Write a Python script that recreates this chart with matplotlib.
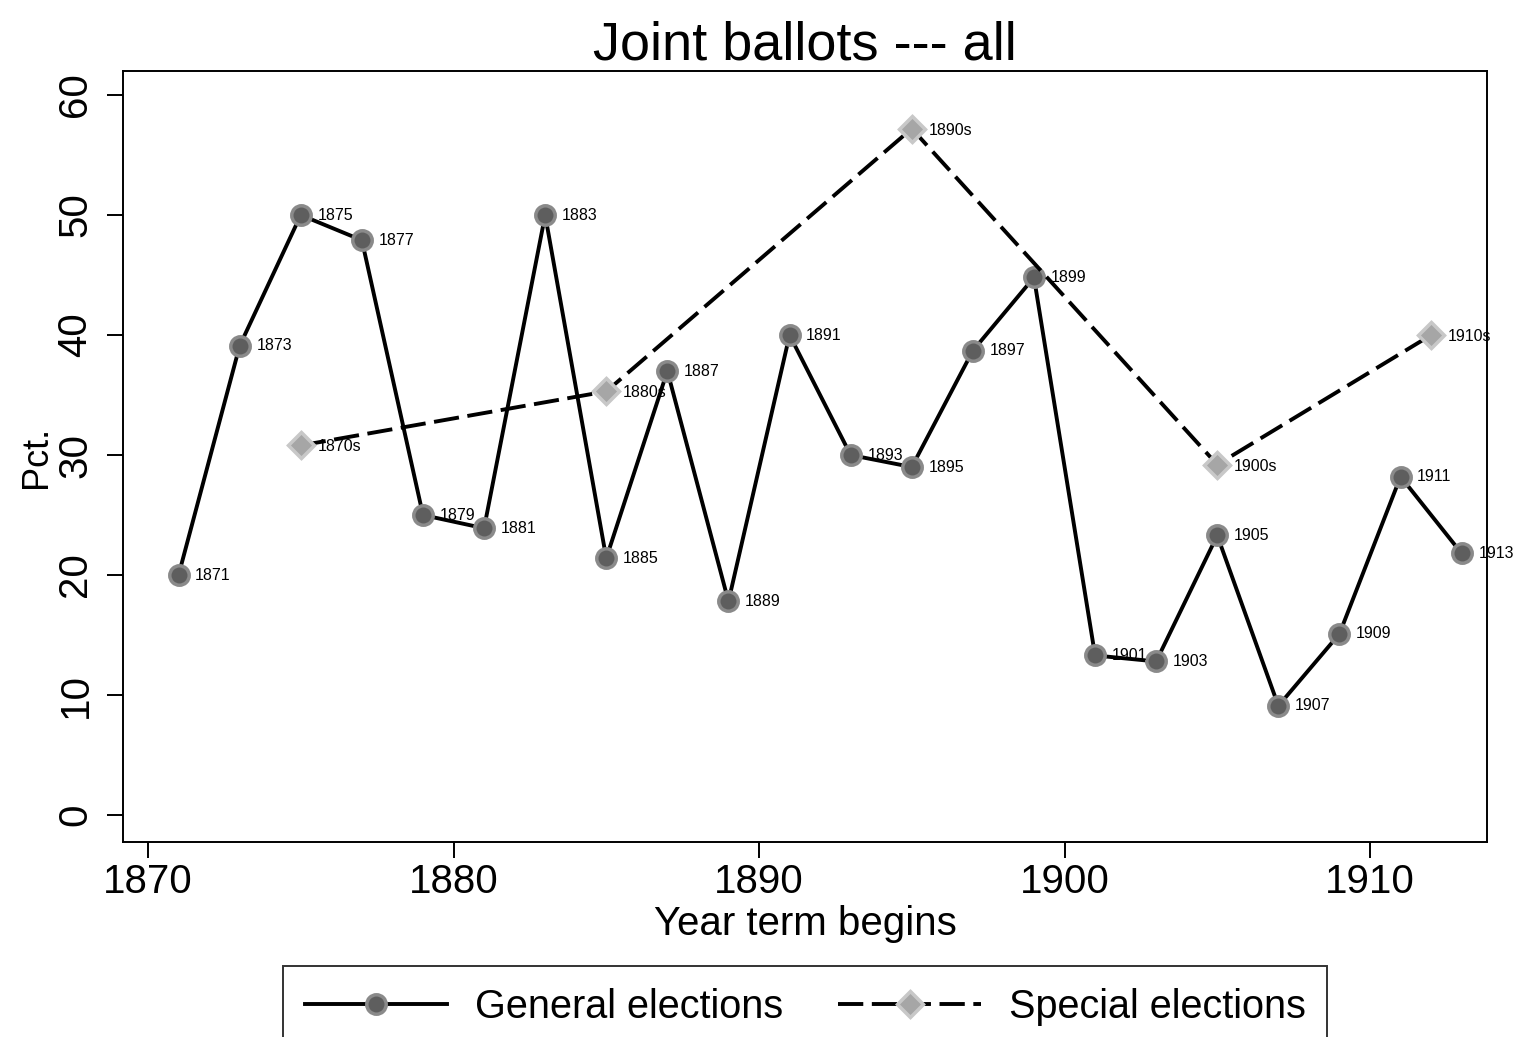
import matplotlib.pyplot as plt

plt.rcParams['font.family'] = ['Liberation Sans', 'DejaVu Sans']

# General elections (year term begins, pct.)
gen_years = [1871, 1873, 1875, 1877, 1879, 1881, 1883, 1885, 1887, 1889, 1891,
             1893, 1895, 1897, 1899, 1901, 1903, 1905, 1907, 1909, 1911, 1913]
gen_pct = [20.0, 39.1, 50.0, 47.9, 25.0, 23.9, 50.0, 21.4, 37.0, 17.8, 40.0,
           30.0, 29.0, 38.7, 44.8, 13.3, 12.8, 23.3, 9.1, 15.1, 28.2, 21.8]

# Special elections by decade
spec_years = [1875, 1885, 1895, 1905, 1912]
spec_pct = [30.8, 35.3, 57.2, 29.2, 40.0]
spec_labels = ['1870s', '1880s', '1890s', '1900s', '1910s']

fig = plt.figure(figsize=(15.2, 10.37), dpi=100)
ax = fig.add_axes([0.0809, 0.188, 0.8974, 0.7435])

ax.plot(gen_years, gen_pct, color='black', lw=2.8, marker='o', markersize=14,
        markerfacecolor='#5e5e5e', markeredgecolor='#8a8a8a', markeredgewidth=2.5,
        label='General elections', zorder=3)
ax.plot(spec_years, spec_pct, color='black', lw=2.8, linestyle=(0, (6.5, 2.2)),
        marker='D', markersize=13, markerfacecolor='#a6a6a6',
        markeredgecolor='#c8c8c8', markeredgewidth=2.5,
        label='Special elections', zorder=3)

# point labels to the right of each marker
for x, y in zip(gen_years, gen_pct):
    ax.annotate(str(x), (x, y), xytext=(12, 0), textcoords='offset points',
                va='center', ha='left', fontsize=11.5, zorder=4)
for x, y, s in zip(spec_years, spec_pct, spec_labels):
    ax.annotate(s, (x, y), xytext=(12, -1), textcoords='offset points',
                va='center', ha='left', fontsize=11.5, zorder=4)

ax.set_xlim(1869.18, 1913.83)
ax.set_ylim(-2.25, 62)
ax.set_xticks([1870, 1880, 1890, 1900, 1910])
ax.set_yticks([0, 10, 20, 30, 40, 50, 60])
ax.tick_params(axis='both', direction='out', length=11.5, width=1.4, labelsize=29)
ax.tick_params(axis='y', pad=9)
for lab in ax.get_yticklabels():
    lab.set_rotation(90)
    lab.set_va('center')

for sp in ax.spines.values():
    sp.set_linewidth(1.4)

ax.set_title('Joint ballots --- all', fontsize=39, pad=8)
ax.set_xlabel('Year term begins', fontsize=29, labelpad=3)
ax.set_ylabel('Pct.', fontsize=26, labelpad=2)

fig.legend(loc='upper center', bbox_to_anchor=(0.5296, 1 - 966 / 1037), ncol=2,
           fontsize=28.5, frameon=True, fancybox=False, edgecolor='black',
           handlelength=3.6, handletextpad=0.7, columnspacing=1.4,
           borderpad=0.55, borderaxespad=0)
leg = fig.legends[0]
leg.get_frame().set_linewidth(1.4)

fig.savefig('out.png', dpi=100)
